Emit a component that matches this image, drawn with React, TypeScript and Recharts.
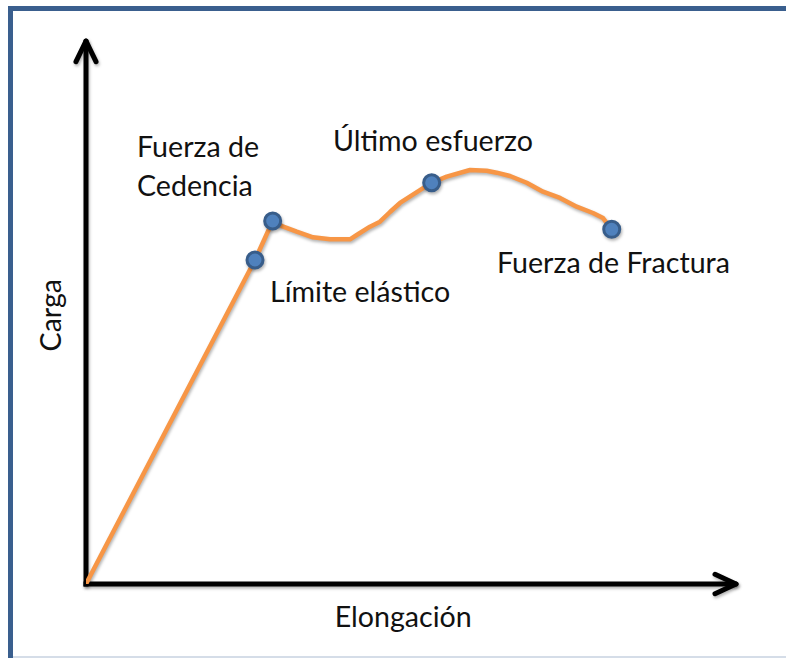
import React from 'react';
import { ComposedChart, Line, Scatter, XAxis, YAxis, ReferenceLine, ReferenceDot } from 'recharts';

// ---- data (arbitrary units: elongation 0-100, load 0-100) ----
const elongacion = [0, 26.0, 28.72, 30.35, 32.42, 34.92, 37.54, 40.62, 41.65, 43.69, 45.23, 46.77, 48.31, 53.18, 55.49, 59.08, 61.65, 63.18, 65.23, 67.8, 70.31, 72.92, 75.49, 78.0, 79.54, 80.88];
const carga = [0, 59.67, 66.85, 65.8, 64.88, 63.85, 63.48, 63.48, 64.27, 65.8, 66.72, 68.51, 70.17, 73.9, 75.01, 76.24, 76.11, 75.75, 75.14, 73.9, 72.25, 71.09, 69.48, 68.32, 67.4, 65.32];
// indices of the marked points on the curve
const puntosMarcados = [1, 2, 13, 25];
const etiquetas = ['Fuerza de', 'Cedencia', 'Último esfuerzo', 'Límite elástico', 'Fuerza de Fractura'];
const tituloX = 'Elongación';
const tituloY = 'Carga';

// ---- layout (annotation anchors in chart units) ----
const etiquetaPos = [
  { x: 7.85, y: 78.64 },
  { x: 7.85, y: 71.45 },
  { x: 38.0, y: 79.74 },
  { x: 28.31, y: 51.93 },
  { x: 63.23, y: 57.27 },
];

const curva = elongacion.map((x, i) => ({ x, y: carga[i] }));
const puntos = puntosMarcados.map((i) => ({ x: elongacion[i], y: carga[i] }));

const W = 786;
const H = 658;
const MARGIN = { top: 41, right: 50, bottom: 74, left: 86 };
const FONT = 'Lato, "Open Sans", sans-serif';
const FS = 28.6;
const TEXT = '#111111';
const SHADOW = { filter: 'drop-shadow(1.5px 2.5px 1.5px rgba(0,0,0,0.3))' };

const makeLabel = (text: string, anchor: string, rotate: boolean) => (props: any) => {
  const vb = props.viewBox || {};
  const x = (vb.x || 0) + (vb.width || 0) / 2;
  const y = (vb.y || 0) + (vb.height || 0) / 2;
  return (
    <text
      x={x}
      y={y}
      textAnchor={anchor}
      fontFamily={FONT}
      fontSize={FS}
      fill={TEXT}
      transform={rotate ? `rotate(-90 ${x} ${y})` : undefined}
    >
      {text}
    </text>
  );
};

const DotShape = (props: any) => (
  <circle cx={props.cx} cy={props.cy} r={8} fill="#4F81BD" stroke="#385D8A" strokeWidth={3} style={SHADOW} />
);

const axisStyle = { stroke: '#000', strokeWidth: 5, style: SHADOW };

export default function App() {
  return (
    <div style={{ position: 'absolute', left: 0, top: 0, width: W, height: H, background: '#fff', overflow: 'hidden' }}>
      <div style={{ position: 'absolute', left: 8, top: 6, width: W - 8, height: 5, background: '#3A5F8E' }} />
      <div style={{ position: 'absolute', left: 8, top: 6, width: 5, height: H - 6, background: '#3A5F8E' }} />
      <div style={{ position: 'absolute', left: 13, top: 656, width: W - 13, height: 2, background: '#D5DDE8' }} />
      <div style={{ position: 'absolute', left: 0, top: 0 }}>
        <ComposedChart width={W} height={H} margin={MARGIN}>
          <XAxis type="number" dataKey="x" domain={[0, 100]} hide allowDataOverflow />
          <YAxis type="number" dataKey="y" domain={[0, 100]} hide allowDataOverflow />
          {/* axes with arrowheads */}
          <ReferenceLine segment={[{ x: 0, y: 0 }, { x: 99.4, y: 0 }]} ifOverflow="visible" {...axisStyle} strokeLinecap="square" />
          <ReferenceLine segment={[{ x: 96.77, y: 1.79 }, { x: 100, y: 0 }]} ifOverflow="visible" {...axisStyle} strokeLinecap="round" />
          <ReferenceLine segment={[{ x: 96.77, y: -1.79 }, { x: 100, y: 0 }]} ifOverflow="visible" {...axisStyle} strokeLinecap="round" />
          <ReferenceLine segment={[{ x: 0, y: 0 }, { x: 0, y: 99.4 }]} ifOverflow="visible" {...axisStyle} strokeLinecap="square" />
          <ReferenceLine segment={[{ x: -1.54, y: 96.19 }, { x: 0, y: 100 }]} ifOverflow="visible" {...axisStyle} strokeLinecap="round" />
          <ReferenceLine segment={[{ x: 1.54, y: 96.19 }, { x: 0, y: 100 }]} ifOverflow="visible" {...axisStyle} strokeLinecap="round" />

          <Line
            data={curva}
            dataKey="y"
            type="linear"
            stroke="#F79646"
            strokeWidth={4.5}
            strokeLinejoin="round"
            strokeLinecap="round"
            dot={false}
            activeDot={false}
            style={SHADOW}
            isAnimationActive={false}
          />
          <Scatter data={puntos} dataKey="y" shape={DotShape} isAnimationActive={false} />

          {etiquetas.map((t, i) => (
            <ReferenceDot
              key={t + i}
              x={etiquetaPos[i].x}
              y={etiquetaPos[i].y}
              r={0}
              fill="none"
              stroke="none"
              ifOverflow="visible"
              label={makeLabel(t, 'start', false)}
            />
          ))}
          <ReferenceDot x={48.8} y={-7.92} r={0} fill="none" stroke="none" ifOverflow="visible" label={makeLabel(tituloX, 'middle', false)} />
          <ReferenceDot x={-3.85} y={49.5} r={0} fill="none" stroke="none" ifOverflow="visible" label={makeLabel(tituloY, 'middle', true)} />
        </ComposedChart>
      </div>
    </div>
  );
}
